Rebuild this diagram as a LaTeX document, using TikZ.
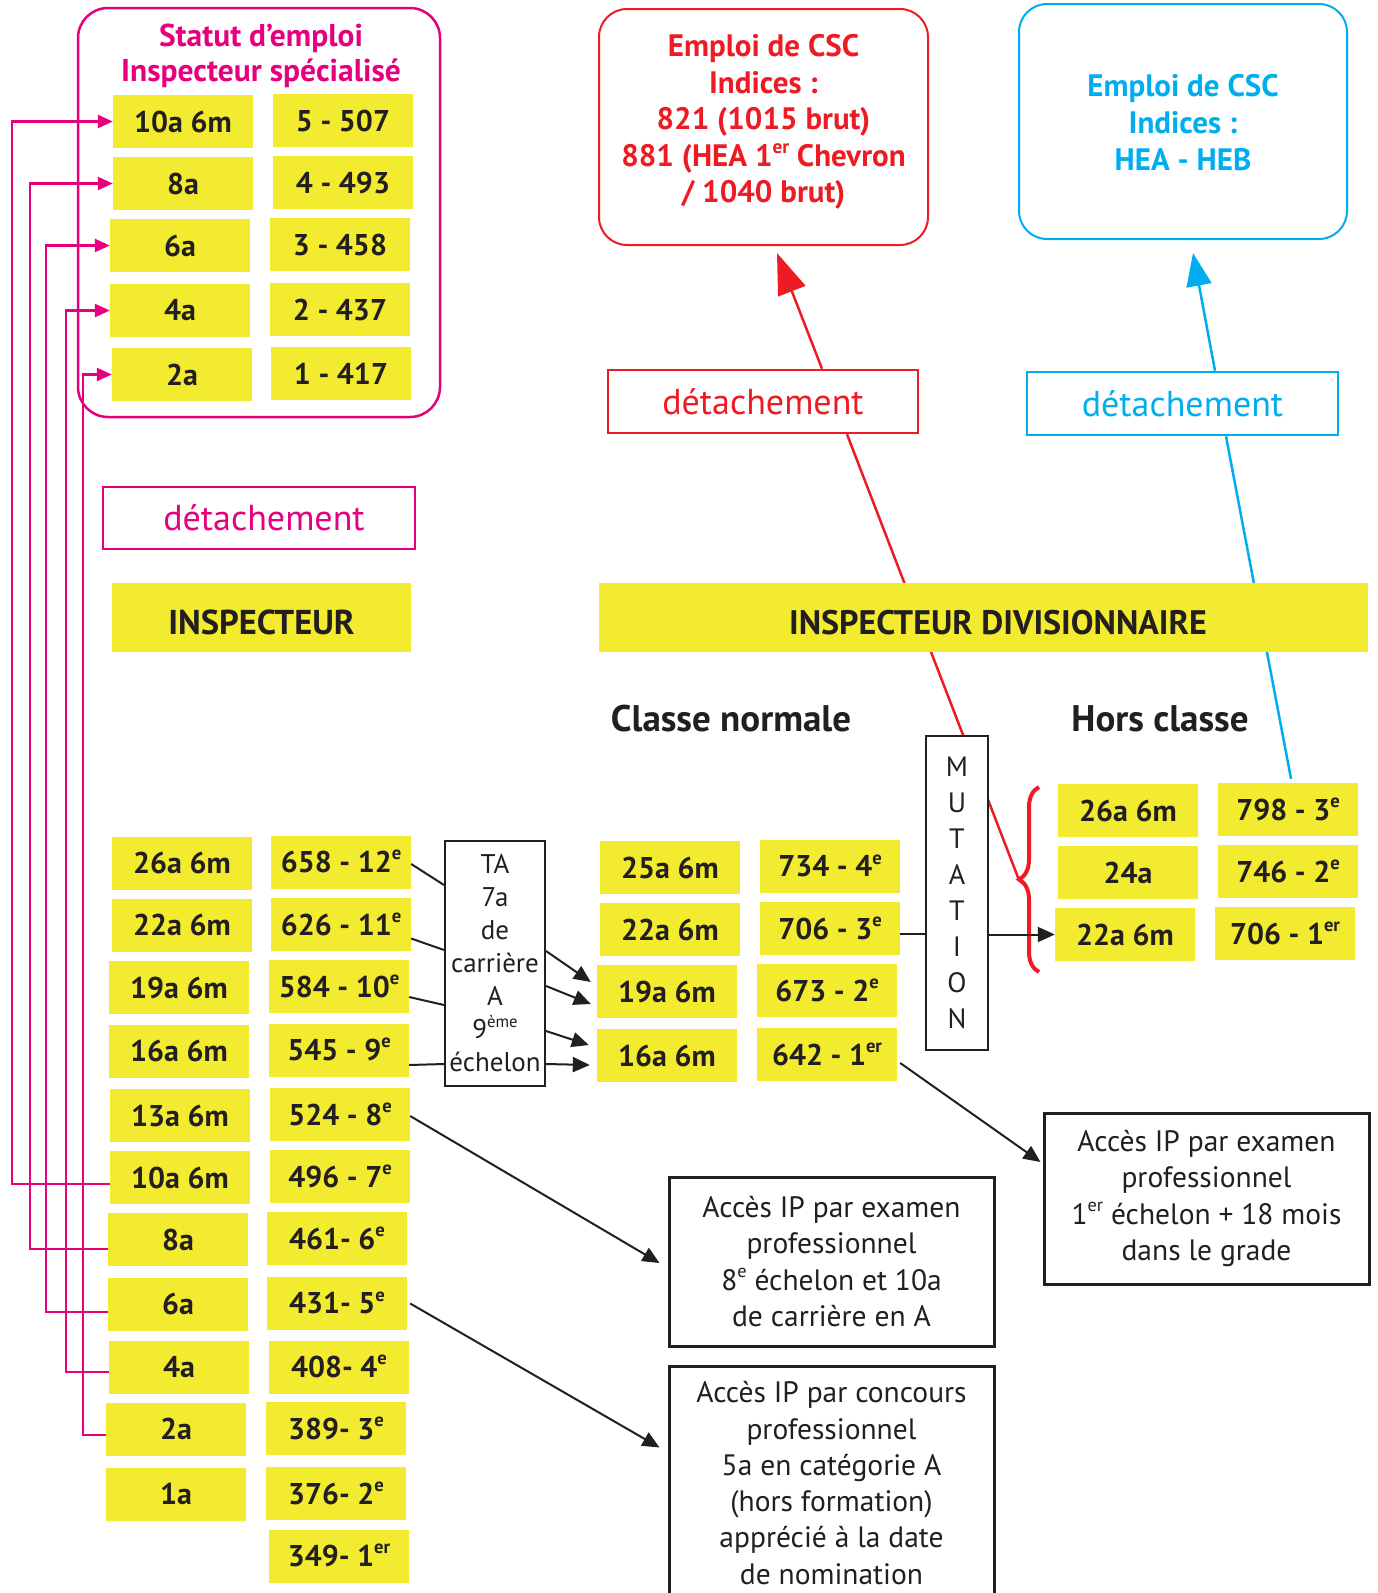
\documentclass[tikz,border=0pt]{standalone}
\usepackage{fontspec}
\setmainfont{PT Sans}
\usepackage{graphicx}
\usetikzlibrary{arrows.meta,decorations.pathreplacing}
\definecolor{ycol}{RGB}{243,235,47}
\definecolor{dcol}{RGB}{35,31,32}
\definecolor{pcol}{RGB}{230,0,126}
\definecolor{rcol}{RGB}{237,28,36}
\definecolor{bcol}{RGB}{0,174,239}
\newcommand\supx[1]{\raisebox{0.42em}[0pt][0pt]{\scalebox{0.62}{#1}}}
\newcommand\fsz[2]{\fontsize{#1}{#2}\selectfont}
\pgfdeclarelayer{back}
\pgfdeclarelayer{bg}
\pgfsetlayers{back,bg,main}
\begin{document}
\begin{tikzpicture}[x=1pt,y=-1pt,
  ybox/.style={fill=ycol, minimum width=140pt, minimum height=53pt, inner sep=0pt, text=dcol, font=\bfseries\fsz{30}{30}},
  band/.style={fill=ycol, minimum height=69pt, inner sep=0pt},
  bandtext/.style={text=dcol, inner sep=0pt, font=\bfseries\fsz{34.5}{34.5}},
  detbox/.style={line width=2.5pt, minimum width=311pt, minimum height=63pt, inner sep=0pt, font=\fsz{36}{36}},
  cscbox/.style={line width=2pt, rounded corners=28pt, minimum width=328pt, minimum height=236pt, inner sep=0pt},
  csctext/.style={align=center, inner sep=0pt, font=\bfseries\fsz{31}{36.6}},
  blackbox/.style={draw=dcol, fill=white, text=dcol, align=center, inner sep=0pt},
  accbox/.style={blackbox, line width=3pt, minimum width=325pt, font=\fsz{29.5}{36.3}},
  conn/.style={draw=dcol, line width=2pt},
  barrow/.style={conn, -{Triangle[length=17pt,width=15pt]}},
  parrow/.style={draw=pcol, line width=2.5pt, -{Triangle[length=15pt,width=13pt]}},
  heading/.style={anchor=base, text=dcol, font=\bfseries\fsz{37}{37}}]

\begin{pgfonlayer}{back}
\fill[white] (0,0) rectangle (1378,1593);
\end{pgfonlayer}
\useasboundingbox (0,0) rectangle (1378,1593);

% ---------- Statut d'emploi ----------
\node[draw=pcol, line width=2.5pt, rounded corners=30pt, minimum width=362pt, minimum height=409pt] (statut) at (259,212.5) {};
\node[text=pcol, font=\bfseries\fsz{31.5}{35}, align=center] (statuttitle) at (261,56) {Statut d’emploi\\Inspecteur spécialisé};
\node[ybox] (t10) at (183,121.5) {10a 6m};
\node[ybox] (t507) at (343,120.5) {5 - 507};
\node[ybox] (t8) at (183,183.5) {8a};
\node[ybox] (t493) at (343,182.5) {4 - 493};
\node[ybox] (t6) at (180,245.5) {6a};
\node[ybox] (t458) at (340,244.5) {3 - 458};
\node[ybox] (t4) at (180,310.5) {4a};
\node[ybox] (t437) at (340,309.5) {2 - 437};
\node[ybox] (t2) at (182,374.5) {2a};
\node[ybox] (t417) at (341,373.5) {1 - 417};

% ---------- CSC boxes ----------
\node[cscbox, draw=rcol, minimum width=329pt] (cscr) at (763.5,127) {};
\node[csctext, text=rcol] (cscrtext) at (763.5,122) {Emploi de CSC\\Indices :\\821 (1015 brut)\\881 (HEA 1\supx{er} Chevron\\/ 1040 brut)};
\node[cscbox, draw=bcol, minimum height=235pt] (cscb) at (1183,121.5) {};
\node[csctext, text=bcol] (cscbtext) at (1183,122.5) {Emploi de CSC\\Indices :\\HEA - HEB};

% ---------- detachement ----------
\node[detbox, draw=pcol, minimum width=312pt, minimum height=62pt] (detp) at (259,518) {};
\node[text=pcol, inner sep=0pt, font=\fsz{36}{36}] (detptext) at (264,518) {détachement};
\node[detbox, draw=rcol, text=rcol, minimum width=310pt] (detr) at (763,401.5) {détachement};
\node[detbox, draw=bcol, text=bcol] (detb) at (1182.5,403.5) {détachement};

% ---------- bands ----------
\node[band, minimum width=299pt] (insp) at (261.5,617.5) {};
\node[bandtext] (insptext) at (261.5,622) {INSPECTEUR};
\node[band, minimum width=769pt] (idband) at (983.5,617.5) {};
\node[bandtext, font=\bfseries\fsz{34}{34}] (idtext) at (998,622.5) {INSPECTEUR DIVISIONNAIRE};
\node[heading] (cnhead) at (731,731) {Classe normale};
\node[heading] (hchead) at (1160,731) {Hors classe};

% ---------- Inspecteur column ----------
\node[ybox] (l26) at (182,863) {26a 6m};
\node[ybox] (r658) at (341,862) {658 - 12\supx{e}};
\node[ybox] (l22) at (182,925) {22a 6m};
\node[ybox] (r626) at (341,924.5) {626 - 11\supx{e}};
\node[ybox] (l19) at (179,987.5) {19a 6m};
\node[ybox] (r584) at (339,986.5) {584 - 10\supx{e}};
\node[ybox] (l16) at (179,1051) {16a 6m};
\node[ybox] (r545) at (339,1050) {545 - 9\supx{e}};
\node[ybox] (l13) at (180,1115.5) {13a 6m};
\node[ybox] (r524) at (340,1114.5) {524 - 8\supx{e}};
\node[ybox] (b10) at (180,1177.5) {10a 6m};
\node[ybox] (r496) at (340,1176.5) {496 - 7\supx{e}};
\node[ybox] (b8) at (178,1239.5) {8a};
\node[ybox] (r461) at (337,1238.5) {461- 6\supx{e}};
\node[ybox] (b6) at (178,1304) {6a};
\node[ybox] (r431) at (337,1303.5) {431- 5\supx{e}};
\node[ybox] (b4) at (179,1367.5) {4a};
\node[ybox] (r408) at (339,1367) {408- 4\supx{e}};
\node[ybox] (b2) at (176,1429) {2a};
\node[ybox] (r389) at (336,1428.5) {389- 3\supx{e}};
\node[ybox] (b1) at (176,1494) {1a};
\node[ybox] (r376) at (336,1493.5) {376- 2\supx{e}};
\node[ybox] (r349) at (339,1556) {349- 1\supx{er}};

% ---------- TA box ----------
\node[blackbox, line width=2pt, minimum width=100pt, minimum height=245pt, font=\fsz{27}{33}] (ta) at (495,963.5) {TA\\7a\\de\\carrière\\A\\9\supx{ème}\\échelon};

% ---------- Classe normale ----------
\node[ybox] (cn25) at (670,867.5) {25a 6m};
\node[ybox] (cn734) at (830,866.5) {734 - 4\supx{e}};
\node[ybox] (cn22) at (670,929.5) {22a 6m};
\node[ybox] (cn706) at (830,928.5) {706 - 3\supx{e}};
\node[ybox] (cn19) at (667,991.5) {19a 6m};
\node[ybox] (cn673) at (827,990.5) {673 - 2\supx{e}};
\node[ybox] (cn16) at (667,1055.5) {16a 6m};
\node[ybox] (cn642) at (827,1054.5) {642 - 1\supx{er}};

% ---------- Mutation ----------
\node[blackbox, line width=2pt, minimum width=62pt, minimum height=314pt, font=\fsz{28}{36}] (mut) at (957,893) {M\\U\\T\\A\\T\\I\\O\\N};

% ---------- Hors classe ----------
\node[ybox] (hc26) at (1128,810.5) {26a 6m};
\node[ybox] (hc798) at (1288,809.5) {798 - 3\supx{e}};
\node[ybox] (hc24) at (1128,872.5) {24a};
\node[ybox] (hc746) at (1288,871.5) {746 - 2\supx{e}};
\node[ybox] (hc22) at (1125,934.5) {22a 6m};
\node[ybox] (hc706) at (1285,933.5) {706 - 1\supx{er}};

% ---------- Acces boxes ----------
\node[accbox, minimum height=171pt] (acc1) at (1206.5,1198.5) {Accès IP par examen\\professionnel\\1\supx{er} échelon + 18 mois\\dans le grade};
\node[accbox, minimum height=169pt] (acc2) at (831.5,1261.5) {Accès IP par examen\\professionnel\\8\supx{e} échelon et 10a\\de carrière en A};
\node[accbox, minimum height=234pt] (acc3) at (831.5,1483) {Accès IP par concours\\professionnel\\5a en catégorie A\\(hors formation)\\apprécié à la date\\de nomination};

% ---------- red / blue detachement lines ----------
\coordinate (btip) at (1019,880);
\begin{pgfonlayer}{bg}
\draw[rcol, line width=2.5pt] (btip) -- ([xshift=84pt]detr.south);
\draw[bcol, line width=2.5pt] ([xshift=3pt,yshift=4pt]hc798.north) -- ([xshift=43.5pt]detb.south);
\end{pgfonlayer}
\draw[rcol, line width=2.5pt, -{Triangle[length=41pt,width=29pt]}] ([xshift=59pt]detr.north) -- ([xshift=13.5pt,yshift=-7pt]cscr.south);
\draw[bcol, line width=2.5pt, -{Triangle[length=33pt,width=25pt]}] ([xshift=32.5pt]detb.north) -- ([xshift=10pt,yshift=-13pt]cscb.south);
\draw[rcol, line width=4pt, decorate, decoration={brace, amplitude=20pt}] (1039,972) -- (1039,787);

% ---------- pink promotion lines ----------
\coordinate (rail1) at (12,0);
\coordinate (rail2) at (30,0);
\coordinate (rail3) at (46,0);
\coordinate (rail4) at (66,0);
\coordinate (rail5) at (83,0);
\coordinate (s10) at ([yshift=-6.5pt]b10.west);
\coordinate (s8) at ([yshift=-9.5pt]b8.west);
\coordinate (s6) at ([yshift=-8pt]b6.west);
\coordinate (s4) at ([yshift=-4.5pt]b4.west);
\coordinate (s2) at ([yshift=-6pt]b2.west);
\draw[parrow] (s10) -- (s10 -| rail1) -- (t10.west -| rail1) -- (t10.west);
\draw[parrow] (s8) -- (s8 -| rail2) -- (t8.west -| rail2) -- (t8.west);
\draw[parrow] (s6) -- (s6 -| rail3) -- (t6.west -| rail3) -- (t6.west);
\draw[parrow] (s4) -- (s4 -| rail4) -- (t4.west -| rail4) -- (t4.west);
\draw[parrow] (s2) -- (s2 -| rail5) -- (t2.west -| rail5) -- (t2.west);

% ---------- black connectors ----------
\draw[conn] ([yshift=-2pt]r658.east) -- ([yshift=-45pt]ta.north west);
\draw[conn] ([yshift=-14pt]r626.east) -- ([yshift=-110pt]ta.north west);
\draw[conn] ([yshift=-10.5pt]r584.east) -- ([yshift=-165pt]ta.north west);
\draw[conn] ([yshift=-15pt]r545.east) -- ([yshift=-224pt]ta.north west);
\draw[barrow] ([yshift=-111pt]ta.north east) -- ([xshift=-6pt,yshift=9.5pt]cn19.west);
\draw[barrow] ([yshift=-146pt]ta.north east) -- ([xshift=-6pt,yshift=-12.5pt]cn19.west);
\draw[barrow] ([yshift=-191pt]ta.north east) -- ([xshift=-8pt,yshift=10.5pt]cn16.west);
\draw[barrow] ([yshift=-224pt]ta.north east) -- ([xshift=-7pt,yshift=-9.5pt]cn16.west);
\coordinate (m1) at ([yshift=-5.5pt]cn706.east);
\draw[conn] (m1) -- (m1 -| mut.west);
\draw[barrow] (hc22.west -| mut.east) -- (hc22.west);
\draw[barrow] ([xshift=3pt,yshift=-8.5pt]cn642.east) -- ([xshift=-2pt,yshift=36.5pt]acc1.west);
\draw[barrow] ([yshift=-1.5pt]r524.east) -- ([xshift=-8pt,yshift=-1.5pt]acc2.west);
\draw[barrow] ([xshift=3pt]r431.east) -- ([xshift=-8pt,yshift=-83pt]acc3.north west);
\end{tikzpicture}
\end{document}
